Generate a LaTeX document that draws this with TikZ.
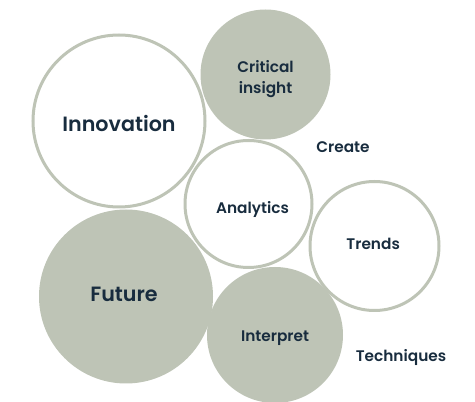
\documentclass[tikz,border=0pt]{standalone}
\usepackage{fontspec}
\setmainfont{Poppins}[UprightFont=* SemiBold]
\usetikzlibrary{positioning}

\definecolor{sage}{RGB}{190,196,182}
\definecolor{ink}{RGB}{24,44,62}

\tikzset{
    bubble/.style={circle, inner sep=0pt},
    ring/.style={bubble, draw=sage, line width=2.25pt, fill=white},
    disc/.style={bubble, fill=sage},
    word/.style={text=ink, align=center, inner sep=0pt, font=\fontsize{11.5}{15.75}\selectfont},
    big/.style={font=\fontsize{15.5}{20}\selectfont},
}

\begin{document}
\begin{tikzpicture}[x=0.75pt, y=-0.75pt]
    \useasboundingbox (0,0) rectangle (475,402);
    % circles
    \node [ring, minimum size=129pt] (innov) at (119,121) {};
    \node [disc, minimum size=97.5pt] (crit) at (265.5,74.5) {};
    \node [ring, minimum size=95.25pt] (anal) at (248.5,204) {};
    \node [disc, minimum size=130.5pt] (fut) at (126,296.5) {};
    \node [ring, minimum size=96.75pt] (trend) at (374.5,246) {};
    \node [disc, minimum size=102pt] (interp) at (275,335) {};
    % texts
    \node [word, big, yshift=-1.5pt] (innov-t) at (innov) {Innovation};
    \node [word, yshift=-3.75pt] (crit-t) at (crit) {Critical\\insight};
    \node [word, xshift=3pt, yshift=-4.5pt] (anal-t) at (anal) {Analytics};
    \node [word, big, xshift=-1.5pt, yshift=1.5pt] (fut-t) at (fut) {Future};
    \node [word, xshift=-1pt, yshift=1.5pt] (trend-t) at (trend) {Trends};
    \node [word, yshift=-2.5pt] (interp-t) at (interp) {Interpret};
    \node [word] (create) at (343,147) {Create};
    \node [word] (tech) at (401,358) {Techniques};
\end{tikzpicture}
\end{document}
